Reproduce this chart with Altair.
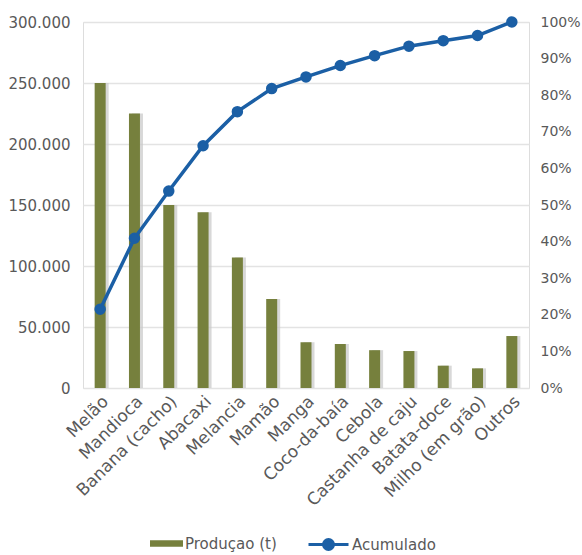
import altair as alt
import pandas as pd

categorias = ["Melão", "Mandioca", "Banana (cacho)", "Abacaxi", "Melancia", "Mamão",
              "Manga", "Coco-da-baía", "Cebola", "Castanha de caju", "Batata-doce",
              "Milho (em grão)", "Outros"]
producao = [250000, 225000, 150000, 144000, 107000, 73000, 37500, 36000, 31000, 30300,
            18300, 16100, 42600]
acumulado = [0.215, 0.409, 0.538, 0.662, 0.755, 0.818, 0.850, 0.881, 0.908, 0.934,
             0.949, 0.963, 1.0]

df = pd.DataFrame({
    "cat": categorias,
    "prod": producao,
    "acum": acumulado,
    "s1": "Produçao (t)",
    "s2": "Acumulado",
})

FONT = "DejaVu Sans"
TXT = "#595959"
OLIVE = "#76803d"
BLUE = "#1b5fa5"

xenc = alt.X("cat:N", sort=categorias, title=None,
             scale=alt.Scale(paddingInner=0.2, paddingOuter=0.1),
             axis=alt.Axis(labelAngle=-45, labelFontSize=17, labelColor=TXT, labelFont=FONT,
                           domain=False, ticks=False, labelPadding=5))

yleft = alt.Y("prod:Q", title=None,
              scale=alt.Scale(domain=[0, 300000]),
              axis=alt.Axis(values=[0, 50000, 100000, 150000, 200000, 250000, 300000],
                            labelExpr="replace(format(datum.value, ','), ',', '.')",
                            labelFontSize=15, labelColor=TXT, labelFont=FONT,
                            domain=False, ticks=False, labelPadding=13,
                            grid=True, gridColor="#e3e3e3", gridWidth=1.5))

shadow = alt.Chart(df).mark_bar(width=11, xOffset=3, color="#c8c8c8", opacity=0.7).encode(
    x=xenc, y=alt.Y("prod:Q", scale=alt.Scale(domain=[0, 300000])))

bars = alt.Chart(df).mark_bar(width=11).encode(
    x=xenc, y=yleft,
    fill=alt.Fill("s1:N", scale=alt.Scale(range=[OLIVE]),
                  legend=alt.Legend(title=None, orient="none", legendX=67, legendY=505,
                                    symbolType="M-1,-0.2H1V0.2H-1Z", symbolSize=1089,
                                    labelFontSize=15, labelColor=TXT, labelFont=FONT,
                                    symbolStrokeWidth=0, labelOffset=2)))

bar_layer = alt.layer(shadow, bars)

yright = alt.Y("acum:Q", title=None,
               scale=alt.Scale(domain=[0, 1]),
               axis=alt.Axis(orient="right", values=[i / 10 for i in range(11)], format=".0%",
                             labelFontSize=14, labelColor=TXT, labelFont=FONT,
                             domain=False, ticks=False, labelPadding=11, grid=False))

line = alt.Chart(df).mark_line(strokeWidth=3.5, point=alt.OverlayMarkDef(filled=True, size=90, color=BLUE)).encode(
    x=xenc, y=yright,
    stroke=alt.Stroke("s2:N", scale=alt.Scale(range=[BLUE]),
                      legend=alt.Legend(title=None, orient="none", legendX=224, legendY=501,
                                        symbolType="M-1,0H1M-0.25,0A0.25,0.25 0 1,0 0.25,0A0.25,0.25 0 1,0 -0.25,0Z",
                                        symbolSize=1600, symbolStrokeWidth=3,
                                        symbolFillColor=BLUE,
                                        labelFontSize=15, labelColor=TXT, labelFont=FONT,
                                        labelOffset=2)))

chart = alt.layer(bar_layer, line).resolve_scale(y="independent").properties(
    width=446, height=366,
    autosize=alt.AutoSizeParams(type="none"),
    padding={"left": 83, "top": 22, "right": 53, "bottom": 167},
).configure_view(stroke=None).configure(background="white")

chart.save("out.html", embed_options={"renderer": "svg", "actions": False})
